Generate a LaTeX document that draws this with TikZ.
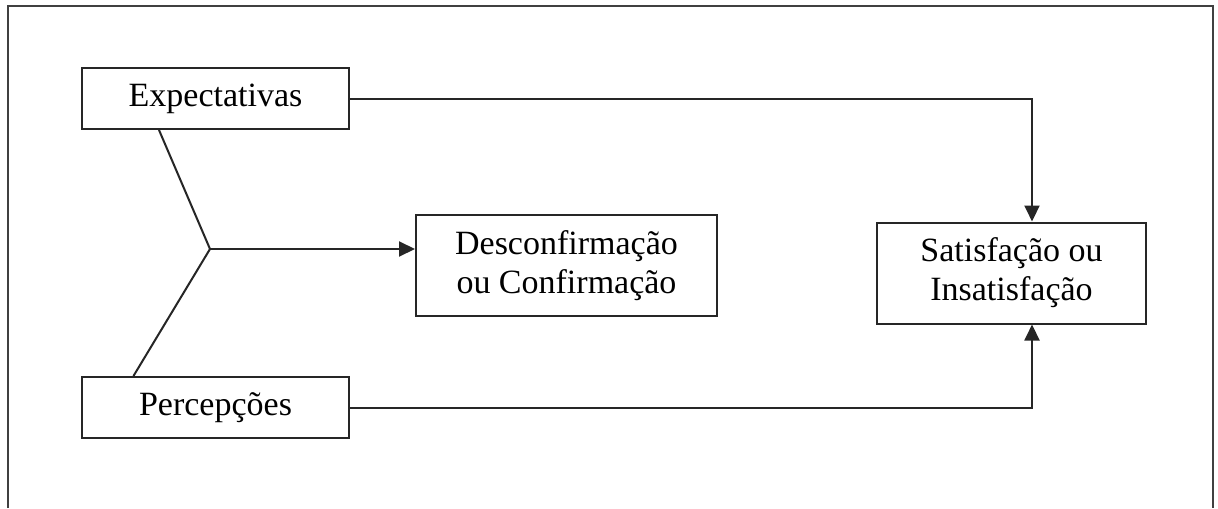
\documentclass[tikz,border=0pt]{standalone}
\usepackage{fontspec}
\setmainfont{Liberation Serif}
\usepackage{tikz}
\usetikzlibrary{arrows.meta, positioning, calc}

\begin{document}
\begin{tikzpicture}[x=0.5pt, y=-0.5pt,
        box/.style={rectangle, draw=black!85, line width=1pt, minimum width=133.5pt, minimum height=30.5pt, inner sep=2pt, align=center, font=\fontsize{17}{19.5}\selectfont},
        bigbox/.style={box, minimum height=50.5pt},
        link/.style={draw=black!85, line width=1pt},
        arrow/.style={link, -{Triangle[length=8pt, width=7.5pt]}}
    ]
        \useasboundingbox (0,0) rectangle (1218,508);
        % outer frame, open at the bottom
        \draw[black!75, line width=1pt] (8,508) -- (8,6) -- (1213,6) -- (1213,508);

        \node[box] (expect) at (215.5,98.5) {Expectativas};
        \node[box, below=123pt of expect] (percep) {Percepções};
        \node[bigbox, minimum width=150.5pt] (desc) at (566.5,265.5) {Desconfirmação\\ou Confirmação};
        \node[bigbox, minimum width=134.5pt] (satis) at (1011.5,273) {Satisfação ou\\Insatisfação};

        \coordinate (join) at (210,249);
        \coordinate (turn) at (1032,97);

        \draw[link] ($(expect.south west)!0.29!(expect.south east)$) -- (join);
        \draw[link] ($(percep.north west)!0.195!(percep.north east)$) -- (join);
        \draw[arrow] (join) -- (join -| desc.west);
        \draw[arrow] (expect.east) -| (turn |- satis.north);
        \draw[arrow] (percep.east) -| (turn |- satis.south);
    \end{tikzpicture}
\end{document}
